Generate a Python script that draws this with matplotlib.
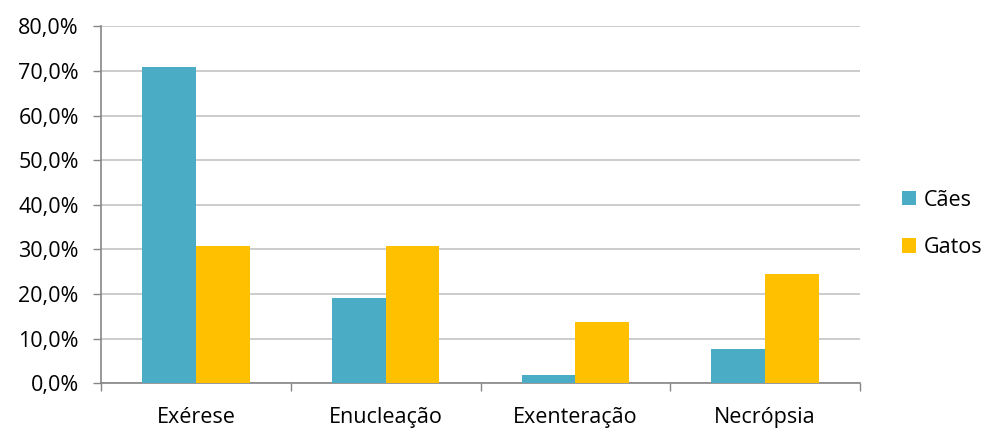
import matplotlib
matplotlib.use("Agg")
import matplotlib.pyplot as plt
from matplotlib.patches import Patch
from matplotlib.ticker import FuncFormatter, FixedLocator

# Proporção de casos por tipo de procedimento
categorias = ["Exérese", "Enucleação", "Exenteração", "Necrópsia"]
caes = [70.8, 19.2, 1.9, 7.7]
gatos = [30.8, 30.8, 13.8, 24.6]
series = ["Cães", "Gatos"]
cores = ["#4BACC6", "#FFC000"]

plt.rcParams["font.family"] = ["Open Sans", "DejaVu Sans"]
fs = 15.5

fig = plt.figure(figsize=(9.89, 4.28), dpi=100)
ax = fig.add_axes([101 / 989, 1 - 383.3 / 428, 759 / 989, 357 / 428])

x = list(range(len(categorias)))
w = 0.283
ax.bar([i - w / 2 for i in x], caes, width=w, color=cores[0], zorder=3)
ax.bar([i + w / 2 for i in x], gatos, width=w, color=cores[1], zorder=3)

ax.set_xlim(-0.5, len(categorias) - 0.5)
ax.set_ylim(0, 80)
ax.set_yticks(range(0, 81, 10))
ax.yaxis.set_major_formatter(FuncFormatter(lambda v, p: f"{v:.1f}%".replace(".", ",")))
ax.grid(axis="y", color="#BFBFBF", linewidth=1.1, zorder=0)

# marcas entre as categorias, rótulos no centro
ax.xaxis.set_major_locator(FixedLocator([i - 0.5 for i in range(len(categorias) + 1)]))
ax.set_xticklabels([])
ax.xaxis.set_minor_locator(FixedLocator(x))
ax.set_xticklabels(categorias, minor=True)
ax.tick_params(axis="x", which="minor", length=0, pad=17, labelsize=fs, labelcolor="#000000")
ax.tick_params(axis="x", which="major", length=6, width=1, color="#868686")
ax.tick_params(axis="y", length=6, width=1, color="#868686", labelsize=fs, pad=10)

for s in ["top", "right"]:
    ax.spines[s].set_visible(False)
for s in ["left", "bottom"]:
    ax.spines[s].set_color("#868686")
    ax.spines[s].set_linewidth(1.2)

handles = [Patch(facecolor=c, edgecolor="none") for c in cores]
fig.legend(handles, series, loc="center left", bbox_to_anchor=(902 / 989, 1 - 224 / 428),
           frameon=False, fontsize=fs, handlelength=0.65, handleheight=0.65,
           handletextpad=0.35, labelspacing=1.22, borderaxespad=0, borderpad=0)

fig.savefig("out.png", dpi=100)
